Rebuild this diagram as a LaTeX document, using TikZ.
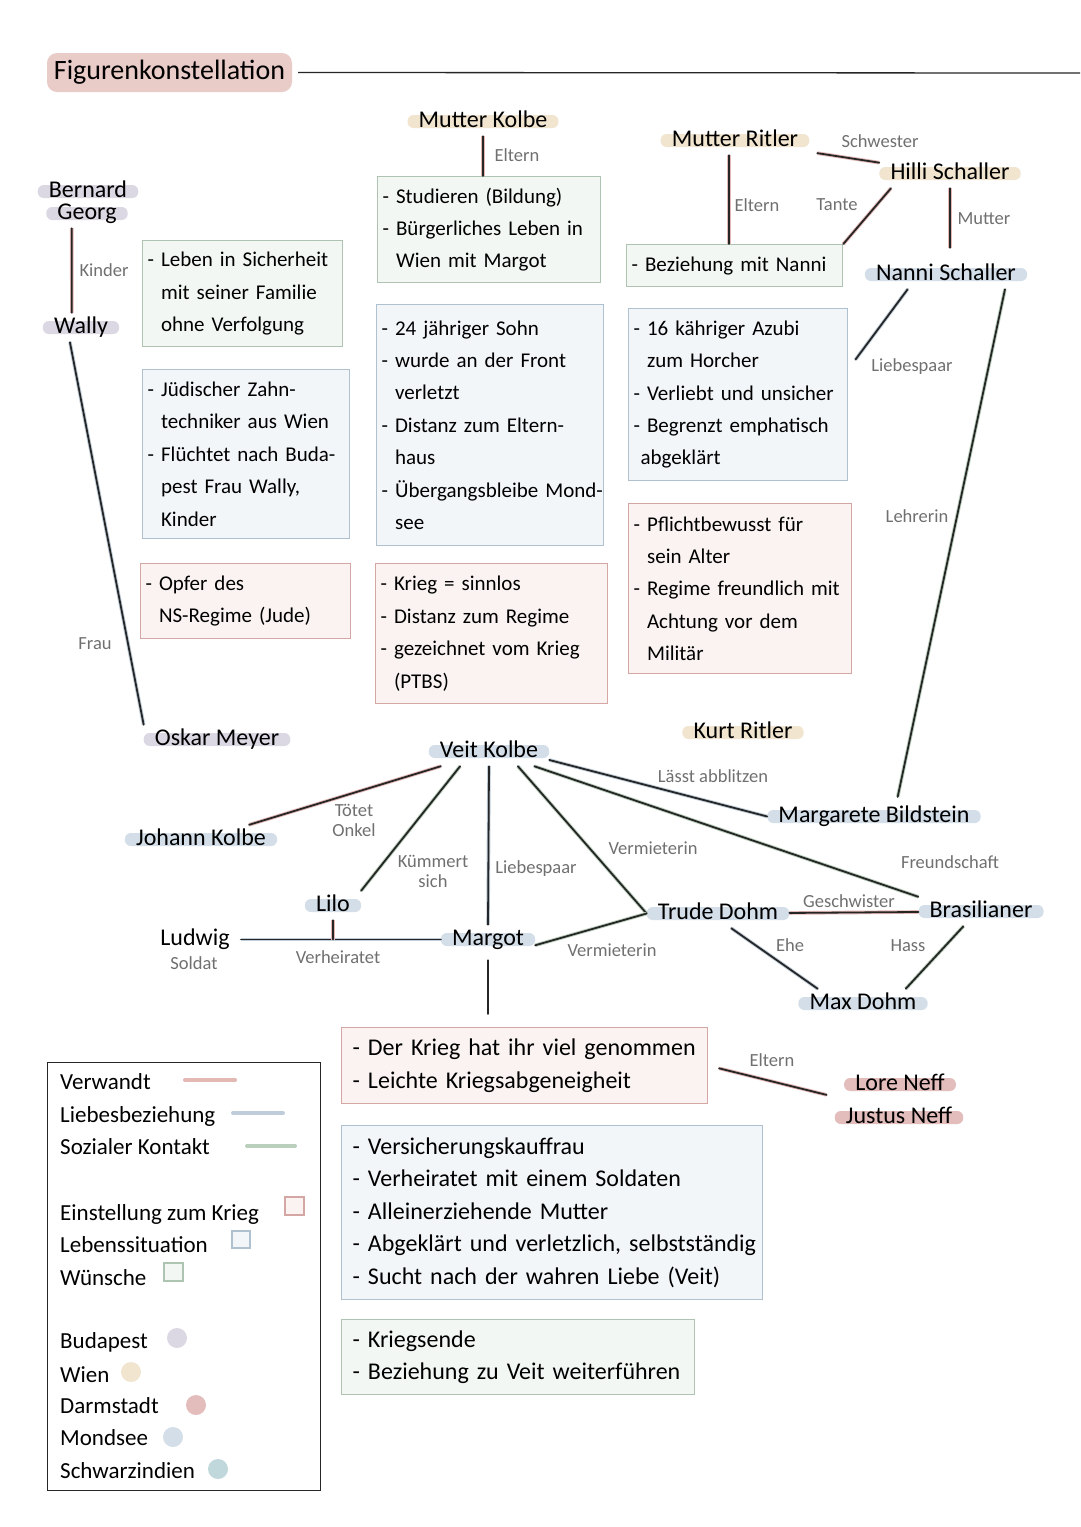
\documentclass[tikz,border=0pt]{standalone}
\usepackage{fontspec}
\setmainfont{Carlito}
\usetikzlibrary{backgrounds}

\definecolor{verwcol}{HTML}{E2B7B4}
\definecolor{liebecol}{HTML}{BFCDDA}
\definecolor{sozcol}{HTML}{BACFBC}
\definecolor{linkcol}{HTML}{262626}
\definecolor{lblcol}{HTML}{707070}
\definecolor{titlecol}{HTML}{E9CBC7}
\definecolor{budapest}{HTML}{DCD8E3}
\definecolor{wien}{HTML}{F1E5D0}
\definecolor{darmstadt}{HTML}{E3BDBC}
\definecolor{mondsee}{HTML}{D3DEE8}
\definecolor{schwarz}{HTML}{C0D7DB}
\definecolor{kriegdraw}{HTML}{D5A7A4}
\definecolor{kriegfill}{HTML}{FAF3F2}
\definecolor{lebendraw}{HTML}{AFC0CF}
\definecolor{lebenfill}{HTML}{F3F6F9}
\definecolor{wunschdraw}{HTML}{AEC3B1}
\definecolor{wunschfill}{HTML}{F3F7F3}

\newcommand{\namefont}{\fontsize{24}{28}\selectfont}
\newcommand{\boxfont}{\fontsize{21}{32.4}\selectfont}
\newcommand{\bigboxfont}{\fontsize{24}{32.4}\selectfont}
\newcommand{\lblfont}{\fontsize{18.5}{20}\selectfont}
\newcommand{\legfont}{\fontsize{23}{26}\selectfont}
\newcommand{\pitem}[1]{\mbox{-\ #1}}
\newcommand{\pcont}[1]{\mbox{\hphantom{-\ }#1}}

\tikzset{
  person/.style={font=\namefont, anchor=base, inner xsep=11pt, inner ysep=3pt, text height=17pt, text depth=6pt},
  lbl/.style={font=\lblfont, text=lblcol, inner sep=1pt, align=center},
  infobox/.style={anchor=north west, align=left, line width=1.3pt, inner xsep=5pt, inner ysep=0pt, font=\boxfont},
  bigbox/.style={infobox, inner xsep=11pt, font=\bigboxfont},
  krieg/.style={draw=kriegdraw, fill=kriegfill},
  leben/.style={draw=lebendraw, fill=lebenfill},
  wunsch/.style={draw=wunschdraw, fill=wunschfill},
  boxsize/.style 2 args={text width=#1, minimum height=#2},
  link/.style={draw=linkcol, line width=1.8pt, line cap=round},
  verw/.style={link, preaction={draw=verwcol, line width=3.6pt}},
  liebe/.style={link, preaction={draw=liebecol, line width=3.6pt}},
  sozial/.style={link, preaction={draw=sozcol, line width=3.6pt}},
  legline/.style={line width=4pt, line cap=round},
  legsq/.style={line width=1.3pt},
}

\begin{document}
\begin{tikzpicture}[x=1pt, y=-1pt]
\useasboundingbox (0,0) rectangle (1080,1527);
\begin{scope}[on background layer]
\fill[white] (0,0) rectangle (1080,1527);
\end{scope}

% Titel
\node[fill=titlecol, rounded corners=10pt, minimum width=245pt, minimum height=39pt, font=\fontsize{28}{30}\selectfont] (title) at (169.5,72.5) {Figurenkonstellation};
\coordinate (ruleend) at (1080,73);
\draw[line width=1.3pt, linkcol] ([xshift=6pt]title.east) -- (ruleend);

% Personen
\node[person] (bernard) at (88,197) {Bernard};
\node[person] (georg) at (87,219) {Georg};
\node[person] (wally) at (81,333) {Wally};
\node[person] (oskar) at (217,745) {Oskar Meyer};
\node[person] (mkolbe) at (483,127) {Mutter Kolbe};
\node[person] (mritler) at (735,146) {Mutter Ritler};
\node[person] (hilli) at (950,179) {Hilli Schaller};
\node[person] (nanni) at (946,280) {Nanni Schaller};
\node[person] (kurt) at (743,738) {Kurt Ritler};
\node[person] (veit) at (489,757) {Veit Kolbe};
\node[person] (johann) at (201,845) {Johann Kolbe};
\node[person] (marga) at (874,822) {Margarete Bildstein};
\node[person] (lilo) at (333,911) {Lilo};
\node[person] (ludwig) at (195,945) {Ludwig};
\node[person] (margot) at (488,945) {Margot};
\node[person] (trude) at (718,919) {Trude Dohm};
\node[person] (bras) at (981,917) {Brasilianer};
\node[person] (max) at (863,1009) {Max Dohm};
\node[person] (lore) at (900,1090) {Lore Neff};
\node[person] (justus) at (899,1123) {Justus Neff};

% Kaesten
\node[infobox, wunsch, boxsize={190pt}{106pt}] (oskW) at (142,240) {\pitem{Leben in Sicherheit}\\ \pcont{mit seiner Familie}\\ \pcont{ohne Verfolgung}};
\node[infobox, leben, boxsize={197pt}{169pt}] (oskL) at (142,369) {\pitem{Jüdischer Zahn-}\\ \pcont{techniker aus Wien}\\ \pitem{Flüchtet nach Buda-}\\ \pcont{pest Frau Wally,}\\ \pcont{Kinder}};
\node[infobox, krieg, boxsize={200pt}{75pt}] (oskK) at (140,563) {\pitem{Opfer des}\\ \pcont{NS-Regime (Jude)}};
\node[infobox, wunsch, boxsize={213pt}{106pt}] (veitW) at (377,176) {\pitem{Studieren (Bildung)}\\ \pitem{Bürgerliches Leben in}\\ \pcont{Wien mit Margot}};
\node[infobox, leben, boxsize={217pt}{241pt}] (veitL) at (376,304) {\pitem{24 jähriger Sohn}\\ \pitem{wurde an der Front}\\ \pcont{verletzt}\\ \pitem{Distanz zum Eltern-}\\ \pcont{haus}\\ \pitem{Übergangsbleibe Mond-}\\ \pcont{see}};
\node[infobox, krieg, boxsize={222pt}{140pt}] (veitK) at (375,563) {\pitem{Krieg = sinnlos}\\ \pitem{Distanz zum Regime}\\ \pitem{gezeichnet vom Krieg}\\ \pcont{(PTBS)}};
\node[infobox, wunsch, boxsize={206pt}{42pt}] (kurtW) at (626,244) {\pitem{Beziehung mit Nanni}};
\node[infobox, leben, boxsize={209pt}{172pt}] (kurtL) at (628,308) {\pitem{16 kähriger Azubi}\\ \pcont{zum Horcher}\\ \pitem{Verliebt und unsicher}\\ \pitem{Begrenzt emphatisch}\\ \mbox{\hspace{7pt}abgeklärt}};
\node[infobox, krieg, boxsize={213pt}{170pt}] (kurtK) at (628,503) {\pitem{Pflichtbewusst für}\\ \pcont{sein Alter}\\ \pitem{Regime freundlich mit}\\ \pcont{Achtung vor dem}\\ \pcont{Militär}};
\node[bigbox, krieg, boxsize={344pt}{76pt}] (margK) at (341,1027) {\pitem{Der Krieg hat ihr viel genommen}\\ \pitem{Leichte Kriegsabgeneigheit}};
\node[bigbox, leben, boxsize={399pt}{174pt}] (margL) at (341,1125) {\pitem{Versicherungskauffrau}\\ \pitem{Verheiratet mit einem Soldaten}\\ \pitem{Alleinerziehende Mutter}\\ \pitem{Abgeklärt und verletzlich, selbstständig}\\ \pitem{Sucht nach der wahren Liebe (Veit)}};
\node[bigbox, wunsch, boxsize={331pt}{75pt}] (margW) at (341,1319) {\pitem{Kriegsende}\\ \pitem{Beziehung zu Veit weiterführen}};

% Verbindungen
\draw[verw] (georg.224) -- (wally.122);
\draw[liebe] (wally.233) -- (oskar.north west);
\draw[verw] (mkolbe.south) -- (mkolbe.south |- veitW.north);
\draw[verw] (mritler.-112) -- (mritler.-112 |- kurtW.north);
\draw[verw, shorten <=8pt] (mritler) -- (hilli);
\draw[verw] (hilli.194) -- (kurtW.north east);
\draw[verw, shorten >=12pt] (hilli.south) -- (hilli.south |- nanni.north);
\draw[liebe, shorten >=12pt] (nanni.201) -- (kurtL.13);
\draw[sozial, shorten >=5pt] (nanni.-14) -- (marga.33);
\draw[verw] (veit) -- (johann);
\draw[sozial] (veit.207) -- (lilo.north east);
\draw[liebe] (veit.south) -- (margot.north);
\draw[sozial] (veit.-27) -- (trude.west);
\draw[sozial] (margot.-7) -- (trude.west);
\draw[liebe] (veit.-8) -- (marga.west);
\draw[sozial] (veit.-18) -- (bras.north west);
\draw[liebe] (ludwig) -- (margot);
\draw[verw] (lilo.south) -- (lilo.south |- ludwig.east);
\draw[link, shorten <=6pt, shorten >=13pt] (margot.south) -- (margot.south |- margK.north);
\draw[verw] (trude) -- (bras);
\draw[liebe] (trude.-48) -- (max.162);
\draw[sozial] (bras.220) -- (max.19);
\draw[verw, shorten <=11pt, shorten >=18pt] (margK.east) -- (lore.south west);

% Beschriftungen
\node[lbl] (lKinder) at (104,270) {Kinder};
\node[lbl] (lFrau) at (95,644) {Frau};
\node[lbl] (lEltK) at (517,155) {Eltern};
\node[lbl] (lSchw) at (880,141) {Schwester};
\node[lbl] (lEltR) at (757,205) {Eltern};
\node[lbl] (lTante) at (837,205) {Tante};
\node[lbl] (lMutter) at (984,219) {Mutter};
\node[lbl] (lLiebN) at (912,367) {Liebespaar};
\node[lbl] (lLehr) at (917,516) {Lehrerin};
\node[lbl] (lAbbl) at (713,776) {Lässt abblitzen};
\node[lbl] (lToet) at (354,820) {Tötet\\Onkel};
\node[lbl] (lKuem) at (433,871) {Kümmert\\sich};
\node[lbl] (lLiebV) at (536,869) {Liebespaar};
\node[lbl] (lVerh) at (338,957) {Verheiratet};
\node[lbl] (lSoldat) at (194,963) {Soldat};
\node[lbl] (lVerm1) at (653,848) {Vermieterin};
\node[lbl] (lVerm2) at (612,950) {Vermieterin};
\node[lbl] (lFreund) at (950,862) {Freundschaft};
\node[lbl] (lGesch) at (849,901) {Geschwister};
\node[lbl] (lEhe) at (790,945) {Ehe};
\node[lbl] (lHass) at (908,946) {Hass};
\node[lbl] (lEltN) at (772,1060) {Eltern};

% Legende
\node[draw=linkcol, line width=1.3pt, anchor=north west, minimum width=273pt, minimum height=428pt, inner sep=0pt] (legend) at (47,1062) {};
\foreach \t/\b in {Verwandt/1089, Liebesbeziehung/1122, Sozialer Kontakt/1154, Einstellung zum Krieg/1220, Lebenssituation/1252, Wünsche/1285, Budapest/1348, Wien/1382, Darmstadt/1413, Mondsee/1445, Schwarzindien/1478}
  \node[font=\legfont, anchor=base west, inner sep=0pt] (leg-\b) at (60,\b) {\t};
\draw[legline, verwcol] (185,1080) -- (235,1080);
\draw[legline, liebecol] (233,1113) -- (283,1113);
\draw[legline, sozcol] (247,1146) -- (295,1146);
\draw[legsq, krieg] (285,1197) rectangle (304,1215);
\draw[legsq, leben] (232,1231) rectangle (250,1248);
\draw[legsq, wunsch] (164,1263) rectangle (183,1281);
\fill[budapest] (177,1338) circle (10pt);
\fill[wien] (131,1372) circle (10pt);
\fill[darmstadt] (196,1405) circle (10pt);
\fill[mondsee] (173,1437) circle (10pt);
\fill[schwarz] (218,1469) circle (10pt);

% Markierungen hinter den Namen
\begin{scope}[on background layer]
\foreach \n/\c in {bernard/budapest, georg/budapest, wally/budapest, oskar/budapest, mkolbe/wien, mritler/wien, hilli/wien, kurt/wien, nanni/mondsee, veit/mondsee, johann/mondsee, marga/mondsee, lilo/mondsee, margot/mondsee, trude/mondsee, bras/mondsee, max/mondsee, lore/darmstadt, justus/darmstadt}
  \fill[\c, rounded corners=6pt] ([yshift=-1pt]\n.base west) rectangle ([yshift=12pt]\n.base east);
\end{scope}
\end{tikzpicture}
\end{document}
